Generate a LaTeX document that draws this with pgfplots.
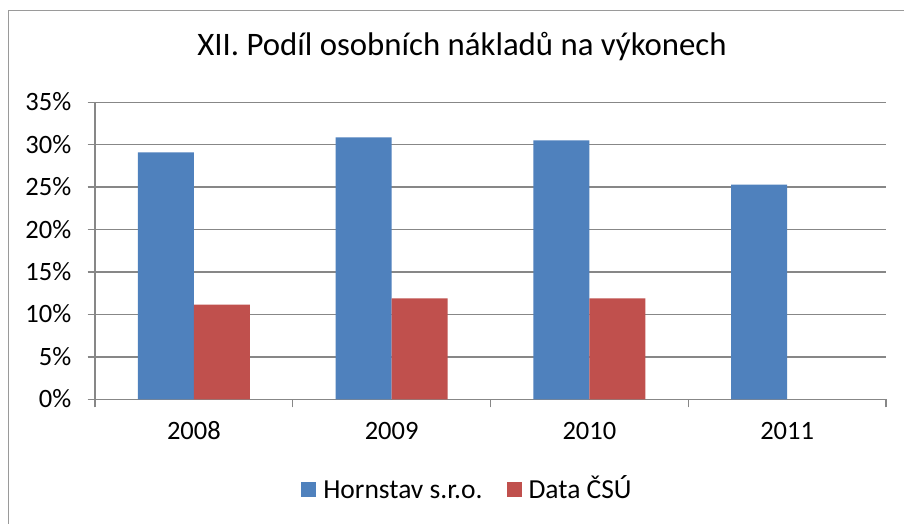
\documentclass[border=0pt]{standalone}
\usepackage{pgfplots}
\pgfplotsset{compat=1.18}
\usepackage{fontspec}
\setmainfont{Carlito}
\definecolor{hblue}{HTML}{4F81BD}
\definecolor{cred}{HTML}{C0504D}
\definecolor{gridgray}{HTML}{878787}
\definecolor{framegray}{HTML}{9A9A9A}
\begin{document}
\begin{tikzpicture}[x=1bp,y=1bp]
\useasboundingbox (0,0) rectangle (904,524);
\fill[white] (0,0) rectangle (904,524);
\draw[framegray, line width=1.5bp] (8.5,0) -- (8.5,513.5) -- (904,513.5);
\begin{axis}[
  at={(95bp,124.7bp)}, anchor=south west,
  scale only axis, width=791bp, height=297.1bp,
  xmin=-0.5, xmax=3.5, ymin=0, ymax=35,
  axis lines*=left,
  axis line style={gridgray, line width=1.5bp},
  ymajorgrids, grid style={gridgray, line width=1.3bp},
  ytick={0,5,...,35},
  yticklabel={\pgfmathprintnumber{\tick}\%},
  /pgf/number format/assume math mode=true,
  xtick={0,1,2,3},
  xticklabels={2008,2009,2010,2011},
  minor xtick={-0.5,0.5,1.5,2.5,3.5},
  tick align=outside,
  major tick length=7.5bp, minor tick length=8bp,
  tick style={gridgray, line width=1.3bp},
  major x tick style={draw=none},
  tick label style={font=\fontsize{26.5bp}{30bp}\selectfont, inner sep=0pt,
    text height=17bp, text depth=0pt},
  yticklabel style={anchor=east, xshift=-16bp},
  xticklabel style={anchor=north, yshift=-16bp},
  title={XII. Podíl osobních nákladů na výkonech},
  title style={at={(0.464,1)}, anchor=base, yshift=40.5bp, inner sep=0pt,
    font=\fontsize{32.8bp}{38bp}\selectfont},
  ybar, bar width=0.283,
  legend columns=2,
  legend style={at={(0.474,-0.305)}, anchor=center, draw=none, fill=none,
    font=\fontsize{27.5bp}{32bp}\selectfont,
    nodes={text height=18bp, text depth=1bp, inner xsep=7bp},
    /tikz/every even column/.append style={column sep=17bp}},
  legend image code/.code={\fill[#1] (0bp,-7.5bp) rectangle (15bp,7.5bp);},
]
\addplot[fill=hblue, draw=none, bar shift=-0.1415] coordinates {(0,29.1) (1,30.85) (2,30.5) (3,25.3)};
\addlegendentry{Hornstav s.r.o.}
\addplot[fill=cred, draw=none, bar shift=0.1415] coordinates {(0,11.15) (1,11.9) (2,11.9)};
\addlegendentry{Data ČSÚ}
\end{axis}
\end{tikzpicture}
\end{document}
